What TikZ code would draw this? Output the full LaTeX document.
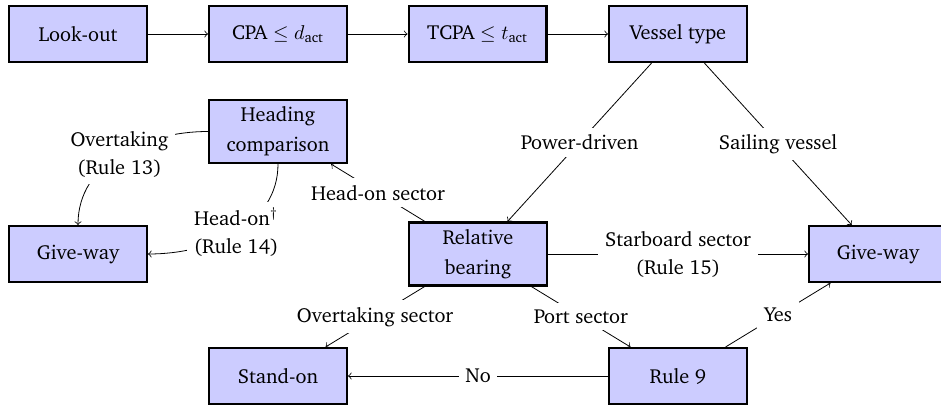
\documentclass[tikz,border=0pt]{standalone}
\usepackage{amsmath}
\usepackage[T1]{fontenc}
\usepackage{charter}
\begin{document}
\begin{tikzpicture}[x=0.5pt,y=-0.5pt,
  box/.style={draw, very thick, fill=blue!20, minimum width=68.8pt,
    minimum height=27.8pt, align=center, font=\fontsize{10.15}{15}\selectfont},
  lab/.style={fill=white, align=center, font=\fontsize{10.15}{14}\selectfont},
  flow/.style={->}]
\useasboundingbox (0,0) rectangle (941,405);

% decision boxes
\node[box] (look)   at (78,34)     {Look-out};
\node[box] (cpa)    at (278,34)    {CPA $\leq d_{\text{act}}$};
\node[box] (tcpa)   at (477.5,34)  {TCPA $\leq t_{\text{act}}$};
\node[box] (vessel) at (678,34)    {Vessel type};
\node[box] (head)   at (278,131.5) {Heading\\comparison};
\node[box] (give1)  at (78,254)    {Give-way};
\node[box] (rel)    at (478,254)   {Relative\\bearing};
\node[box] (give2)  at (878,254)   {Give-way};
\node[box] (stand)  at (278,376)   {Stand-on};
\node[box] (rule9)  at (678,376)   {Rule 9};

% screening chain
\draw[flow] (look) -- (cpa);
\draw[flow] (cpa) -- (tcpa);
\draw[flow] (tcpa) -- (vessel);

% branches
\draw[flow] (vessel) -- node[lab]{Power-driven} (rel);
\draw[flow] (vessel) -- node[lab]{Sailing vessel} (give2);
\draw[flow] (rel) -- node[lab]{Starboard sector\\(Rule 15)} (give2);
\draw[flow] (rel) -- node[lab]{Head-on sector} (head);
\draw[flow] (head.west) to[out=180,in=90] node[lab]{Overtaking\\(Rule 13)} (give1.north);
\draw[flow] (head.south) to[out=270,in=0] node[lab]{Head-on$^\dagger$\\(Rule 14)} (give1.east);
\draw[flow] (rel) -- node[lab]{Overtaking sector} (stand);
\draw[flow] (rel) -- node[lab]{Port sector} (rule9);
\draw[flow] (rule9) -- node[lab]{Yes} (give2);
\draw[flow] (rule9) -- node[lab]{No} (stand);
\end{tikzpicture}
\end{document}
